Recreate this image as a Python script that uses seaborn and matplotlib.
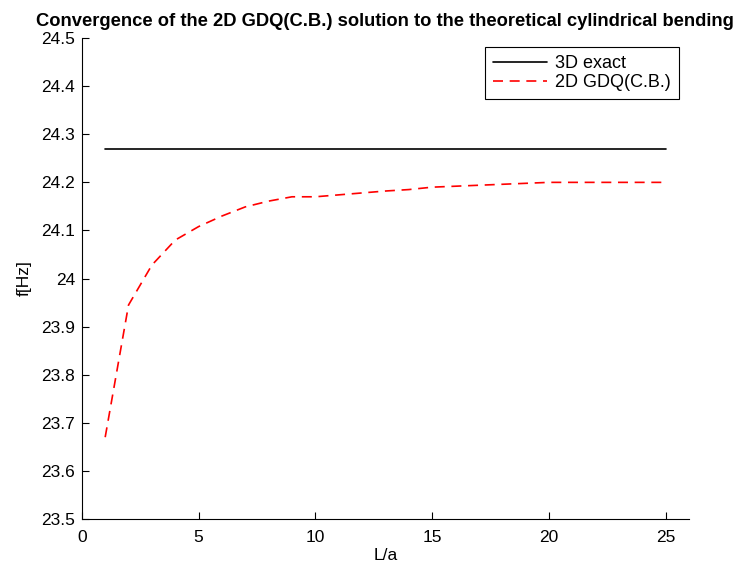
import matplotlib
matplotlib.use("Agg")
import matplotlib.pyplot as plt
import numpy as np
import seaborn as sns
import pandas as pd

ratio = list(range(1, 26))
exact_3d = [24.27] * 25
gdq_2d = [23.67, 23.945, 24.028, 24.08, 24.108, 24.13, 24.149, 24.161, 24.17, 24.17,
          24.174, 24.178, 24.182, 24.185, 24.19, 24.192, 24.194, 24.196, 24.198, 24.2,
          24.2, 24.2, 24.2, 24.2, 24.2]

df = pd.DataFrame({"L/a": ratio * 2,
                   "f": exact_3d + gdq_2d,
                   "serie": ["3D exact"] * 25 + ["2D GDQ(C.B.)"] * 25})

sns.set_style("ticks")
plt.rcParams["font.family"] = ["Liberation Sans", "DejaVu Sans"]
plt.rcParams["text.color"] = "black"
plt.rcParams["axes.labelcolor"] = "black"

fig = plt.figure(figsize=(7.44, 5.69), dpi=100)
ax = fig.add_axes([0.110, 0.088, 0.816, 0.845])

sns.lineplot(data=df, x="L/a", y="f", hue="serie", style="serie",
             palette={"3D exact": "black", "2D GDQ(C.B.)": "red"},
             dashes={"3D exact": "", "2D GDQ(C.B.)": (6, 4)},
             linewidth=1.2, ax=ax)

ax.set_xlim(0, 26)
ax.set_ylim(23.5, 24.5)
ax.set_xticks([0, 5, 10, 15, 20, 25])
ax.set_yticks(np.round(np.arange(23.5, 24.51, 0.1), 1))
ax.set_yticklabels(["23.5", "23.6", "23.7", "23.8", "23.9", "24", "24.1", "24.2", "24.3", "24.4", "24.5"])
ax.tick_params(direction="in", labelsize=12.5, length=5, width=0.8, colors="black")
ax.tick_params(axis="y", pad=5)
ax.tick_params(axis="x", pad=8)
for s in ["left", "bottom"]:
    ax.spines[s].set_color("black")
    ax.spines[s].set_linewidth(0.8)
ax.spines["top"].set_visible(False)
ax.spines["right"].set_visible(False)
ax.set_xlabel("L/a", fontsize=12.5, labelpad=2)
ax.set_ylabel("f[Hz]", fontsize=12.5, labelpad=7)
ax.set_title("Convergence of the 2D GDQ(C.B.) solution to the theoretical cylindrical bending",
             fontsize=13.2, fontweight="bold", pad=9)

leg = ax.legend(loc="upper right", bbox_to_anchor=(0.9835, 0.981), borderaxespad=0,
                fontsize=13, fancybox=False, edgecolor="black", framealpha=1,
                handlelength=3.0, handletextpad=0.45, borderpad=0.45, labelspacing=0.1)
leg.get_frame().set_linewidth(0.8)
for h in leg.get_lines():
    h.set_linewidth(1.2)

fig.savefig("out.png", dpi=100)
